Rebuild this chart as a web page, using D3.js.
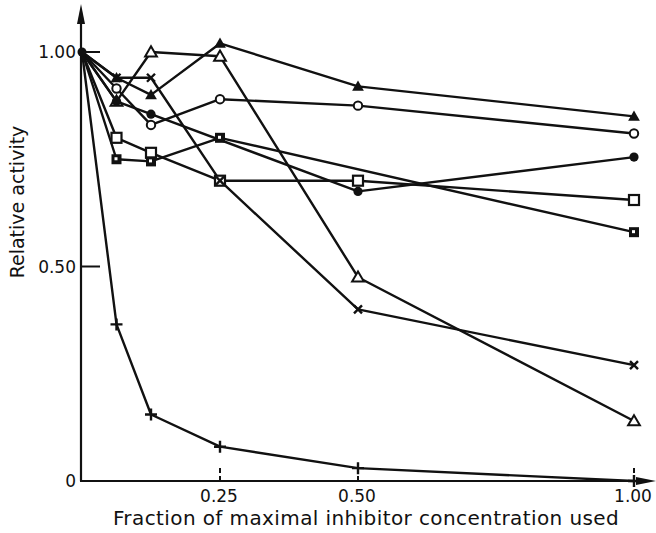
<!DOCTYPE html>
<html><head><meta charset="utf-8">
<script src="https://cdn.jsdelivr.net/npm/d3@7"></script>
<style>body{margin:0;background:#fff}svg{display:block}text{font-family:"DejaVu Sans",sans-serif;fill:#111}</style>
</head><body><svg id="c" width="656" height="533"></svg>
<script>
const xValues = [0, 0.0625, 0.125, 0.25, 0.5, 1.0];
const filledTriangle = [1.00, 0.94, 0.90, 1.02, 0.92, 0.85];
const openCircle = [1.00, 0.915, 0.83, 0.89, 0.875, 0.81];
const filledCircle = [1.00, 0.885, 0.855, null, 0.675, 0.755];
const openSquare = [1.00, 0.80, 0.765, 0.70, 0.70, 0.655];
const dotSquare = [1.00, 0.75, 0.745, 0.80, null, 0.58];
const crossMark = [1.00, 0.94, 0.94, 0.70, 0.40, 0.27];
const openTriangle = [1.00, 0.885, 1.00, 0.99, 0.475, 0.14];
const plusMark = [1.00, 0.365, 0.155, 0.08, 0.03, 0.00];
const xTicks = [0.25, 0.50, 1.00];
const xTickLabels = ["0.25", "0.50", "1.00"];
const yTicks = [0, 0.50, 1.00];
const yTickLabels = ["0", "0.50", "1.00"];
const xTitle = "Fraction of maximal inhibitor concentration used";
const yTitle = "Relative activity";

// listed in drawing order of markers (later ones on top)
const series = [
  {values: openTriangle, marker: "triOpen"},
  {values: filledCircle, marker: "circleFilled"},
  {values: openSquare, marker: "squareOpen"},
  {values: dotSquare, marker: "squareDot"},
  {values: openCircle, marker: "circleOpen"},
  {values: plusMark, marker: "plus"},
  {values: crossMark, marker: "x"},
  {values: filledTriangle, marker: "triFilled"}
];

const svg = d3.select("#c");
const x = d3.scaleLinear().domain([0, 1]).range([82, 634]);
const y = d3.scaleLinear().domain([0, 1]).range([481, 52]);
const ink = "#111";

// axes
const g = svg.append("g");
g.append("line").attr("x1", x(0) - 1).attr("x2", x(0) - 1).attr("y1", y(0)).attr("y2", 14).attr("stroke", ink).attr("stroke-width", 2.2);
g.append("path").attr("d", `M${x(0)-1},4 L${x(0)-5},24 L${x(0)+3},24 Z`).attr("fill", ink);
g.append("line").attr("x1", x(0) - 2).attr("x2", 645).attr("y1", y(0)).attr("y2", y(0)).attr("stroke", ink).attr("stroke-width", 2.2);
g.append("path").attr("d", `M656,${y(0)} L636,${y(0)-4} L636,${y(0)+4} Z`).attr("fill", ink);

// y ticks (inward)
yTicks.forEach((t, i) => {
  if (t > 0) g.append("line").attr("x1", x(0)).attr("x2", x(0) + 18).attr("y1", y(t)).attr("y2", y(t)).attr("stroke", ink).attr("stroke-width", 2);
  g.append("text").attr("x", x(0) - 6).attr("y", y(t)).attr("dy", "0.36em").attr("text-anchor", "end").attr("font-size", 17).text(yTickLabels[i]);
});
// x ticks (inward)
xTicks.forEach((t, i) => {
  g.append("line").attr("x1", x(t)).attr("x2", x(t)).attr("y1", y(0)).attr("y2", y(0) - 13).attr("stroke", ink).attr("stroke-width", 2).attr("stroke-dasharray", "5,3");
  g.append("text").attr("x", x(t) - 1).attr("y", y(0) + 21).attr("text-anchor", "middle").attr("font-size", 17).text(xTickLabels[i]);
});
svg.append("text").attr("x", 366).attr("y", 525).attr("text-anchor", "middle").attr("font-size", 20).attr("letter-spacing", 0.4).text(xTitle);
svg.append("text").attr("transform", "translate(24,202) rotate(-90)").attr("text-anchor", "middle").attr("font-size", 19).text(yTitle);

// lines
const line = d3.line().x(d => x(d[0])).y(d => y(d[1]));
series.forEach(s => {
  s.pts = xValues.map((xv, i) => [xv, s.values[i]]).filter(d => d[1] !== null);
  svg.append("path").attr("d", line(s.pts)).attr("fill", "none").attr("stroke", ink).attr("stroke-width", 2.4).attr("stroke-linejoin", "round");
});

// markers
function drawMarker(sel, type) {
  const tri = d3.symbol(d3.symbolTriangle, 60)();
  switch (type) {
    case "triFilled": sel.append("path").attr("d", tri).attr("transform", "translate(0,1)").attr("fill", ink); break;
    case "triOpen": sel.append("path").attr("d", tri).attr("transform", "translate(0,1)").attr("fill", "#fff").attr("stroke", ink).attr("stroke-width", 2); break;
    case "circleOpen": sel.append("circle").attr("r", 4.2).attr("fill", "#fff").attr("stroke", ink).attr("stroke-width", 2); break;
    case "circleFilled": sel.append("circle").attr("r", 4.6).attr("fill", ink); break;
    case "squareOpen": sel.append("rect").attr("x", -5).attr("y", -5).attr("width", 10).attr("height", 10).attr("fill", "#fff").attr("stroke", ink).attr("stroke-width", 2.2); break;
    case "squareDot":
      sel.append("rect").attr("x", -5).attr("y", -5).attr("width", 10).attr("height", 10).attr("fill", ink);
      sel.append("rect").attr("x", -2).attr("y", -2).attr("width", 3).attr("height", 3).attr("fill", "#fff"); break;
    case "x": sel.append("path").attr("d", "M-4,-4L4,4M-4,4L4,-4").attr("stroke", ink).attr("stroke-width", 2.4); break;
    case "plus": sel.append("path").attr("d", "M-6,0L6,0M0,-6L0,6").attr("stroke", ink).attr("stroke-width", 2.4); break;
  }
}
series.forEach(s => {
  s.pts.slice(1).forEach(d => {
    const m = svg.append("g").attr("transform", `translate(${x(d[0])},${y(d[1])})`);
    drawMarker(m, s.marker);
  });
});
svg.append("circle").attr("cx", x(0)).attr("cy", y(1)).attr("r", 4.5).attr("fill", ink);
</script></body></html>
